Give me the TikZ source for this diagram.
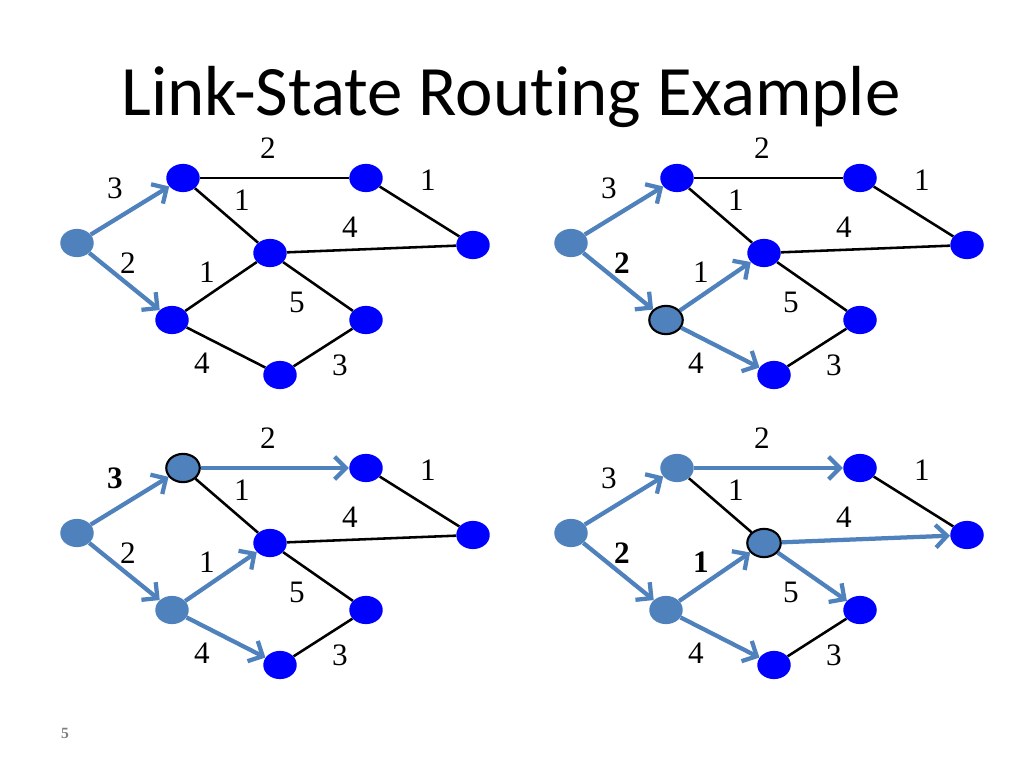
\documentclass[tikz,border=0pt]{standalone}
\usepackage{fontspec}
\setmainfont{Liberation Serif}
\newfontfamily\titlefont{Carlito}
\usepackage{tikz}
\usetikzlibrary{shapes.geometric,arrows.meta}
\definecolor{hop}{HTML}{0000FF}
\definecolor{seenblue}{HTML}{4F81BD}
\definecolor{pagegray}{HTML}{7F7F7F}

\begin{document}
\begin{tikzpicture}[
    x=0.0248cm, y=-0.0248cm,
    font=\fontsize{22}{26}\selectfont,
    router/.style={ellipse, fill=hop, inner sep=0pt,
                   minimum width=0.83cm, minimum height=0.7cm},
    seen/.style={fill=seenblue},
    current/.style={fill=seenblue, draw=black, line width=1.5pt},
    link/.style={draw=black, line width=1.8pt},
    tree/.style={draw=seenblue, line width=3pt,
                 -{Straight Barb[length=8pt, width=16pt]}},
    weight/.style={inner sep=0pt},
    heavy/.style={font=\fontsize{22}{26}\selectfont\bfseries},
    % panel A: source only
    A-s/.style=seen, A-sa/.style=tree, A-se/.style=tree,
    % panel B: cost-2 node settled
    B-s/.style=seen, B-e/.style=current,
    B-sa/.style=tree, B-se/.style=tree, B-ec/.style=tree, B-eg/.style=tree,
    B-wse/.style=heavy,
    % panel C: cost-3 node settled
    C-s/.style=seen, C-e/.style=seen, C-a/.style=current,
    C-sa/.style=tree, C-se/.style=tree, C-ec/.style=tree, C-eg/.style=tree,
    C-ab/.style=tree, C-wsa/.style=heavy,
    % panel D: 2+1 node settled
    D-s/.style=seen, D-e/.style=seen, D-a/.style=seen, D-c/.style=current,
    D-sa/.style=tree, D-se/.style=tree, D-ec/.style=tree, D-eg/.style=tree,
    D-ab/.style=tree, D-cd/.style=tree, D-cf/.style=tree,
    D-wse/.style=heavy, D-wec/.style=heavy
]
\fill[white] (0,0) rectangle (1024,768);
\useasboundingbox (0,0) rectangle (1024,768);

\node[font=\titlefont\fontsize{50}{54}\selectfont, anchor=base] (title)
    at (511,116) {Link-State Rout\kern0pt ing Example};

% four snapshots of the same network
\foreach \p/\dx/\dy in {A/0/0, B/494/0, C/0/290, D/494/290} {
  \foreach \n/\x/\y in {s/77/243, a/183/178, b/366/178, c/270/253,
                        d/473/245, e/172/320, f/366/320, g/280/375}
    \node[router, \p-\n/.try] (\p\n) at (\x+\dx,\y+\dy) {};
  \foreach \u/\v/\w/\lx/\ly in {s/a/3/115/188, s/e/2/128/263, a/b/2/268/148,
                                a/c/1/242/200, e/c/1/207/272, b/d/1/428/180,
                                c/d/4/350/227, c/f/5/297/302, e/g/4/202/363,
                                g/f/3/340/365} {
    \draw[link, \p-\u\v/.try] (\p\u) -- (\p\v);
    \node[weight, \p-w\u\v/.try] (\p w\u\v) at (\lx+\dx,\ly+\dy) {\w};
  }
}

\node[font=\fontsize{11}{13}\selectfont\bfseries, text=pagegray, anchor=base] (pagenum)
    at (65,738) {5};

\end{tikzpicture}
\end{document}
